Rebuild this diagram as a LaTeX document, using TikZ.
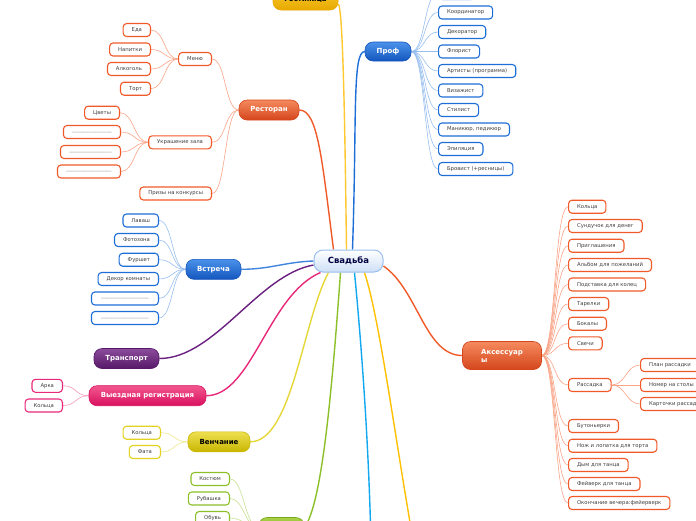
\documentclass[tikz,border=0pt]{standalone}
\usepackage{fontspec}
\setmainfont{DejaVu Sans}
\usetikzlibrary{positioning}
\pgfdeclarelayer{background}
\pgfsetlayers{background,main}

\definecolor{orangeD}{HTML}{F05A28}
\definecolor{orangeT}{HTML}{F58A5E}
\definecolor{orangeB}{HTML}{D5461C}
\definecolor{orangeL}{HTML}{F9A487}
\definecolor{blueD}{HTML}{1E6ED8}
\definecolor{blueT}{HTML}{4A92EA}
\definecolor{blueB}{HTML}{1456BE}
\definecolor{blueL}{HTML}{98BEF0}
\definecolor{purpT}{HTML}{8C4C9C}
\definecolor{purpB}{HTML}{561868}
\definecolor{purpD}{HTML}{6A2080}
\definecolor{pinkD}{HTML}{E8287A}
\definecolor{pinkT}{HTML}{F2578F}
\definecolor{pinkB}{HTML}{D8105E}
\definecolor{pinkL}{HTML}{F596BC}
\definecolor{yellD}{HTML}{E2D222}
\definecolor{yellT}{HTML}{EEE052}
\definecolor{yellB}{HTML}{C8B600}
\definecolor{yellL}{HTML}{EEE78E}
\definecolor{greenD}{HTML}{8CC028}
\definecolor{greenT}{HTML}{A8D048}
\definecolor{greenB}{HTML}{78A818}
\definecolor{greenL}{HTML}{C8E092}
\definecolor{goldT}{HTML}{F8CC30}
\definecolor{goldB}{HTML}{E8A800}
\definecolor{goldL}{HTML}{FFC830}
\definecolor{cyanL}{HTML}{12A8F0}
\definecolor{amberL}{HTML}{FFC000}

\tikzset{
  hub/.style={draw=blueD!45, line width=1pt, top color=white, bottom color=blueD!22,
    rounded corners=9pt, minimum width=69pt, minimum height=22pt,
    text=blue!25!black, font=\fontsize{8.5}{10}\selectfont\bfseries},
  topic/.style 2 args={top color=#1, bottom color=#2, draw=#2, line width=0.6pt,
    rounded corners=8pt, minimum height=20pt, inner xsep=4pt, text=white,
    font=\fontsize{7}{8}\selectfont\bfseries},
  leaf/.style={draw=#1, fill=white, line width=1.1pt, rounded corners=3.5pt,
    minimum height=13pt, inner xsep=8.5pt, inner ysep=0pt,
    text=black!75, font=\fontsize{5.3}{6}\selectfont},
  limb/.style={draw=#1, line width=1.4pt},
  twig/.style={draw=#1, line width=0.6pt}
}

\begin{document}
\begin{tikzpicture}[x=1pt,y=-1pt]
\useasboundingbox (0,0) rectangle (696,520);
\clip (0,0) rectangle (696,520);

% centre
\node[hub] (hub) at (348.5,261) {Свадьба};

% top
\node[topic={goldT}{goldB}, minimum width=65pt, minimum height=22pt, text=black] (hotel) at (305.5,-1) {Гостиница};

\node[topic={blueT}{blueB}, minimum width=46pt, minimum height=19pt] (prof) at (388,51.5) {Проф};
\node[leaf=blueD, anchor=west, minimum width=36pt] (prof0) at (438,-7) {};
\foreach \n/\y/\t in {1/12.5/Координатор,2/32/Декоратор,3/51.5/Флорист,4/71/Артисты (программа),5/90.5/Визажист,6/110/Стилист,7/129.5/{Маникюр, педикюр},8/149/Эпиляция,9/169/Бровист (+ресницы)}
  \node[leaf=blueD, anchor=west] (prof\n) at (438,\y) {\t};

% restaurant
\node[topic={orangeT}{orangeB}, minimum width=60pt] (rest) at (269,110) {Ресторан};
\node[leaf=orangeD, anchor=east] (menu) at (212,59) {Меню};
\node[leaf=orangeD, anchor=east] (deco) at (212,142.3) {Украшение зала};
\node[leaf=orangeD, anchor=east] (prize) at (212,193.5) {Призы на конкурсы};
\foreach \n/\y/\t in {1/30/Еда,2/49.5/Напитки,3/69/Алкоголь,4/88.7/Торт}
  \node[leaf=orangeD, anchor=east] (menu\n) at (151,\y) {\t};
\node[leaf=orangeD, anchor=east] (deco1) at (120,112.7) {Цветы};
\node[leaf=orangeD, anchor=east, minimum width=57pt] (deco2) at (121,132) {\textcolor{gray}{\_\_\_\_\_\_\_\_\_\_\_\_\_\_\_}};
\node[leaf=orangeD, anchor=east, minimum width=60pt] (deco3) at (121,152) {\textcolor{gray}{\_\_\_\_\_\_\_\_\_\_\_\_\_\_\_\_}};
\node[leaf=orangeD, anchor=east, minimum width=63pt] (deco4) at (121,171.5) {\textcolor{gray}{\_\_\_\_\_\_\_\_\_\_\_\_\_\_\_\_\_}};

% meeting
\node[topic={blueT}{blueB}, minimum width=55pt] (meet) at (213.5,269.3) {Встреча};
\foreach \n/\y/\t in {1/220.5/Лаваш,2/240/Фотозона,3/259.7/Фуршет,4/279/Декор комнаты}
  \node[leaf=blueD, anchor=east] (meet\n) at (159,\y) {\t};
\node[leaf=blueD, anchor=east, minimum width=67pt] (meet5) at (159,298.5) {\textcolor{gray}{\_\_\_\_\_\_\_\_\_\_\_\_\_\_\_\_\_\_}};
\node[leaf=blueD, anchor=east, minimum width=67pt] (meet6) at (159,318) {\textcolor{gray}{\_\_\_\_\_\_\_\_\_\_\_\_\_\_\_\_\_\_}};

\node[topic={purpT}{purpB}, minimum width=65pt] (trans) at (126.5,358.5) {Транспорт};

\node[topic={pinkT}{pinkB}, minimum width=117pt] (reg) at (147.5,395.7) {Выездная регистрация};
\node[leaf=pinkD, anchor=east] (reg1) at (63,385.8) {Арка};
\node[leaf=pinkD, anchor=east] (reg2) at (63,405.5) {Кольца};

\node[topic={yellT}{yellB}, minimum width=62pt, text=black] (wed) at (219,441.8) {Венчание};
\node[leaf=yellD, anchor=east] (wed1) at (161,432.7) {Кольца};
\node[leaf=yellD, anchor=east] (wed2) at (161,452) {Фата};

\node[topic={greenT}{greenB}, minimum width=45pt] (dress) at (281.5,527.5) {};
\foreach \n/\y/\t in {1/479/Костюм,2/498.5/Рубашка,3/518/Обувь}
  \node[leaf=greenD, anchor=east] (dress\n) at (230,\y) {\t};

% accessories
\node[topic={orangeT}{orangeB}, minimum width=79pt, minimum height=28pt, align=left] (acc) at (502,355.5) {Аксессуар\\ы};
\foreach \n/\y/\t in {1/206.7/Кольца,2/226/Сундучок для денег,3/245.7/Приглашения,4/265/Альбом для пожеланий,5/284.5/Подставка для колец,6/304/Тарелки,7/323.7/Бокалы,8/343.3/Свечи,9/385/Рассадка,10/426/Бутоньерки,11/445.7/Нож и лопатка для торта,12/465/Дым для танца,13/484/Фейверк для танца,14/503/Окончание вечера:фейерверк}
  \node[leaf=orangeD, anchor=west] (acc\n) at (568,\y) {\t};
\foreach \n/\y/\t in {1/365/План рассадки,2/385/Номер на столы,3/404/Карточки рассадки}
  \node[leaf=orangeD, anchor=west] (seat\n) at (640,\y) {\t};

\coordinate (cyanend) at (371,545);
\coordinate (amberend) at (414,545);

\begin{pgfonlayer}{background}
% main branches
\draw[limb=goldL] ([xshift=-2pt]hub.north) .. controls (345,130) and (343,8) .. ([yshift=-5pt]hotel.east);
\draw[limb=blueD] ([xshift=4pt]hub.north) .. controls (357,120) and (352,51.5) .. (prof.west);
\draw[limb=orangeD] ([xshift=-15pt]hub.north) .. controls (322,160) and (318,110) .. (rest.east);
\draw[limb=blueD!85] (hub.west) .. controls (285,262) and (270,269.3) .. (meet.east);
\draw[limb=purpD] ([yshift=-4pt]hub.west) .. controls (258,275) and (215,358.5) .. (trans.east);
\draw[limb=pinkD] ([xshift=-28pt]hub.south) .. controls (268,295) and (252,395.7) .. (reg.east);
\draw[limb=yellD!90] ([xshift=-20pt]hub.south) .. controls (303,320) and (292,441.8) .. (wed.east);
\draw[limb=greenD] ([xshift=-8pt]hub.south) .. controls (332,390) and (322,505) .. (dress.east);
\draw[limb=cyanL] ([xshift=6pt]hub.south) .. controls (362,350) and (369,450) .. (cyanend);
\draw[limb=amberL] ([xshift=16pt]hub.south) .. controls (380,320) and (396,445) .. (amberend);
\draw[limb=orangeD] ([yshift=-5pt]hub.east) .. controls (418,290) and (425,355.5) .. (acc.west);
% sub branches
\foreach \n in {0,...,9}
  \draw[twig=blueL] (prof.east) .. controls +(14,0) and +(-14,0) .. (prof\n.west);
\foreach \n in {1,...,4}
  \draw[twig=orangeL] (menu.west) .. controls +(-14,0) and +(14,0) .. (menu\n.east);
\foreach \n in {1,...,4}
  \draw[twig=orangeL] (deco.west) .. controls +(-14,0) and +(14,0) .. (deco\n.east);
\foreach \n in {menu,deco,prize}
  \draw[twig=orangeL] (rest.west) .. controls +(-14,0) and +(14,0) .. (\n.east);
\foreach \n in {1,...,6}
  \draw[twig=blueL] (meet.west) .. controls +(-14,0) and +(14,0) .. (meet\n.east);
\foreach \n in {1,2}
  \draw[twig=pinkL] (reg.west) .. controls +(-14,0) and +(14,0) .. (reg\n.east);
\foreach \n in {1,2}
  \draw[twig=yellL] (wed.west) .. controls +(-14,0) and +(14,0) .. (wed\n.east);
\foreach \n in {1,2,3}
  \draw[twig=greenL] (dress.west) .. controls +(-14,0) and +(14,0) .. (dress\n.east);
\foreach \n in {1,...,14}
  \draw[twig=orangeL] (acc.east) .. controls +(14,0) and +(-14,0) .. (acc\n.west);
\foreach \n in {1,2,3}
  \draw[twig=orangeL] (acc9.east) .. controls +(14,0) and +(-14,0) .. (seat\n.west);
\end{pgfonlayer}
\end{tikzpicture}
\end{document}
